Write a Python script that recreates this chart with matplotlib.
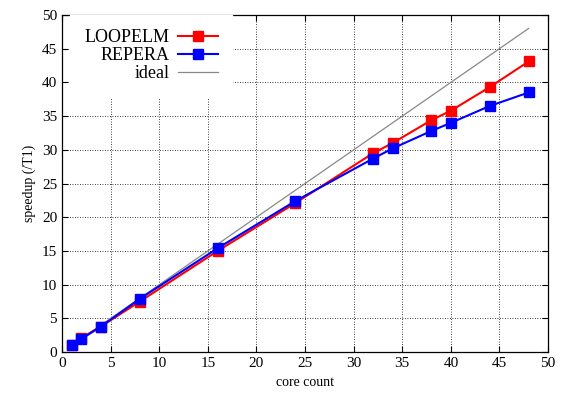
import matplotlib.pyplot as plt
import numpy as np

cores = [1, 2, 4, 8, 16, 24, 32, 34, 38, 40, 44, 48]
loopelm = [1.0, 2.1, 3.8, 7.5, 15.0, 22.1, 29.5, 31.0, 34.4, 35.8, 39.3, 43.1]
repera = [1.0, 1.95, 3.8, 7.9, 15.4, 22.4, 28.7, 30.2, 32.8, 34.0, 36.5, 38.5]
ideal_x = [1, 48]
ideal_y = [1, 48]

plt.rcParams['font.family'] = ['Liberation Serif', 'DejaVu Serif']
plt.rcParams['font.size'] = 11

fig = plt.figure(figsize=(5.61, 3.93), dpi=100)
ax = fig.add_axes([0.1105, 0.104, 0.8665, 0.858])

ax.plot(cores, loopelm, color='#ff0000', lw=1.5, marker='s', ms=6.5, label='LOOPELM', zorder=3)
ax.plot(cores, repera, color='#0000ff', lw=1.5, marker='s', ms=6.5, label='REPERA', zorder=4)
ax.plot(ideal_x, ideal_y, color='#888888', lw=0.9, label='ideal', zorder=2)

ax.set_xlim(0, 50)
ax.set_ylim(0, 50)
ax.set_xticks(np.arange(0, 51, 5))
ax.set_yticks(np.arange(0, 51, 5))
ax.grid(True, color='black', linestyle=(0, (1, 2)), linewidth=0.6)
ax.tick_params(direction='in', top=True, right=True, length=4, labelsize=11)
for s in ax.spines.values():
    s.set_linewidth(0.9)

ax.set_xlabel('core count', fontsize=10)
ax.set_ylabel('speedup (/T1)', fontsize=10)

leg = ax.legend(loc='upper left', bbox_to_anchor=(0.017, 1.0), markerfirst=False,
                frameon=True, fancybox=False, edgecolor='white', framealpha=1.0,
                fontsize=13, handlelength=2.2, handletextpad=0.45,
                borderpad=0.8, labelspacing=0.05, borderaxespad=0.0)
for t in leg.get_texts():
    t.set_ha('right')
leg.set_zorder(5)

plt.savefig('out.png', dpi=100)
